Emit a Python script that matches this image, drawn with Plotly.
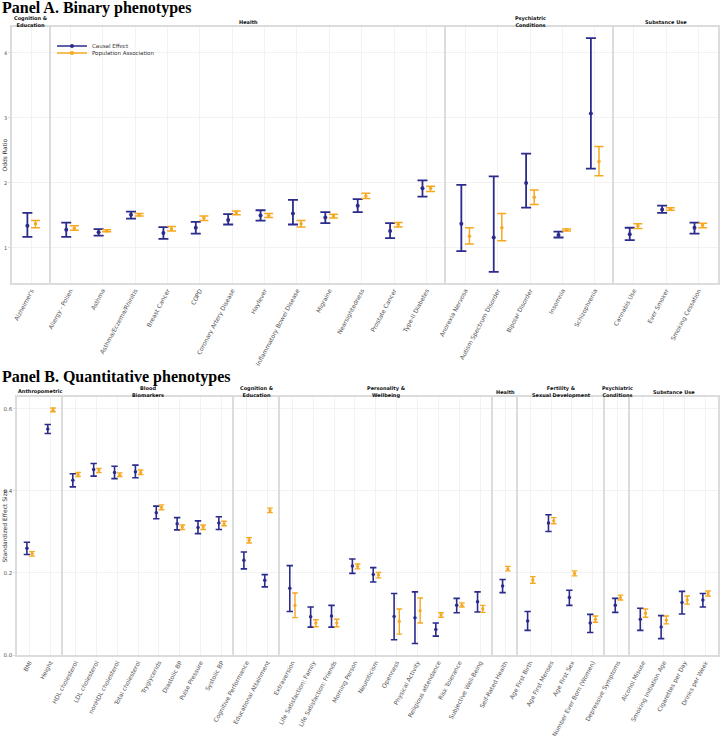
import numpy as np
import plotly.graph_objects as go

W, H = 720, 736
BLUE = "#2b2b8c"
ORANGE = "#f6a821"
BORDER = "#dcdcdc"
GRID = "#f2f2f2"
TICKC = "#555555"
FONT = "DejaVu Sans"

# ---------------- Panel A: binary phenotypes (odds ratios) ----------------
A_groups = ["Cognition &<br>Education", "Health", "Psychiatric<br>Conditions", "Substance Use"]
A_group_of = ["Cognition &<br>Education"] + ["Health"] * 12 + ["Psychiatric<br>Conditions"] * 5 + ["Substance Use"] * 3
A_pheno = ["Alzheimer's", "Allergy - Pollen", "Asthma", "Asthma/Eczema/Rhinitis", "Breast Cancer", "COPD",
           "Coronary Artery Disease", "Hayfever", "Inflammatory Bowel Disease", "Migraine", "Nearsightedness",
           "Prostate Cancer", "Type-II Diabetes", "Anorexia Nervosa", "Autism Spectrum Disorder",
           "Bipolar Disorder", "Insomnia", "Schizophrenia", "Cannabis Use", "Ever Smoker", "Smoking Cessation"]
A_ce = [1.34, 1.28, 1.24, 1.51, 1.23, 1.31, 1.43, 1.50, 1.53, 1.47, 1.65, 1.26, 1.92,
        1.37, 1.16, 2.00, 1.20, 3.07, 1.21, 1.59, 1.31]
A_ce_lo = [1.17, 1.17, 1.19, 1.45, 1.14, 1.22, 1.36, 1.42, 1.36, 1.38, 1.55, 1.15, 1.79,
           0.95, 0.63, 1.62, 1.16, 2.22, 1.12, 1.54, 1.22]
A_ce_hi = [1.54, 1.39, 1.29, 1.56, 1.32, 1.40, 1.52, 1.58, 1.74, 1.55, 1.75, 1.38, 2.04,
           1.97, 2.10, 2.45, 1.25, 4.23, 1.31, 1.65, 1.39]
A_pa = [1.37, 1.30, 1.26, 1.51, 1.29, 1.46, 1.54, 1.50, 1.37, 1.49, 1.80, 1.36, 1.92,
        1.18, 1.31, 1.78, 1.28, 2.33, 1.34, 1.60, 1.35]
A_pa_lo = [1.31, 1.27, 1.25, 1.49, 1.26, 1.42, 1.51, 1.47, 1.32, 1.46, 1.76, 1.32, 1.87,
           1.06, 1.11, 1.67, 1.26, 2.11, 1.30, 1.58, 1.31]
A_pa_hi = [1.42, 1.34, 1.28, 1.53, 1.33, 1.49, 1.57, 1.53, 1.42, 1.52, 1.84, 1.39, 1.95,
           1.31, 1.53, 1.89, 1.29, 2.56, 1.37, 1.62, 1.38]
A_yticks = [1, 2, 3, 4]

# ---------------- Panel B: quantitative phenotypes ----------------
B_groups = ["Anthropometric", "Blood<br>Biomarkers", "Cognition &<br>Education", "Personality &<br>Wellbeing",
            "Health", "Fertility &<br>Sexual Development", "Psychiatric<br>Conditions", "Substance Use"]
B_group_of = (["Anthropometric"] * 2 + ["Blood<br>Biomarkers"] * 8 + ["Cognition &<br>Education"] * 2 +
              ["Personality &<br>Wellbeing"] * 10 + ["Health"] + ["Fertility &<br>Sexual Development"] * 4 +
              ["Psychiatric<br>Conditions"] + ["Substance Use"] * 4)
B_pheno = ["BMI", "Height", "HDL cholesterol", "LDL cholesterol", "nonHDL cholesterol", "Total cholesterol",
           "Tryglycerids", "Diastolic BP", "Pulse Pressure", "Systolic BP", "Cognitive Performance",
           "Educational Attainment", "Extraversion", "Life Satisfaction: Family", "Life Satisfaction: Friends",
           "Morning Person", "Neuroticism", "Openness", "Physical Activity", "Religious attendance",
           "Risk Tolerance", "Subjective Well-Being", "Self-Rated Health", "Age First Birth", "Age First Menses",
           "Age First Sex", "Number Ever Born (Women)", "Depressive Symptoms", "Alcohol Misuse",
           "Smoking Initiation Age", "Cigarettes per Day", "Drinks per Week"]
B_ce = [0.260, 0.551, 0.426, 0.452, 0.445, 0.447, 0.347, 0.320, 0.311, 0.322, 0.231, 0.182,
        0.163, 0.093, 0.095, 0.217, 0.196, 0.094, 0.091, 0.062, 0.121, 0.130, 0.168,
        0.083, 0.322, 0.140, 0.078, 0.121, 0.087, 0.068, 0.128, 0.134]
B_ce_lo = [0.245, 0.540, 0.410, 0.436, 0.430, 0.432, 0.332, 0.305, 0.296, 0.306, 0.210, 0.166,
           0.106, 0.068, 0.068, 0.199, 0.178, 0.037, 0.028, 0.046, 0.103, 0.105, 0.152,
           0.060, 0.301, 0.121, 0.055, 0.104, 0.060, 0.040, 0.100, 0.117]
B_ce_hi = [0.275, 0.562, 0.442, 0.467, 0.460, 0.463, 0.363, 0.335, 0.327, 0.337, 0.251, 0.196,
           0.218, 0.117, 0.121, 0.234, 0.213, 0.150, 0.154, 0.078, 0.138, 0.154, 0.184,
           0.106, 0.342, 0.158, 0.099, 0.138, 0.114, 0.096, 0.155, 0.150]
B_pa = [0.247, 0.597, 0.440, 0.451, 0.439, 0.445, 0.360, 0.312, 0.312, 0.320, 0.280, 0.352,
        0.121, 0.078, 0.078, 0.216, 0.195, 0.082, 0.108, 0.098, 0.121, 0.113, 0.210,
        0.183, 0.327, 0.199, 0.087, 0.140, 0.102, 0.085, 0.134, 0.150]
B_pa_lo = [0.241, 0.593, 0.435, 0.445, 0.435, 0.440, 0.354, 0.306, 0.306, 0.315, 0.273, 0.347,
           0.091, 0.069, 0.069, 0.210, 0.188, 0.051, 0.078, 0.092, 0.117, 0.104, 0.205,
           0.175, 0.320, 0.193, 0.080, 0.134, 0.092, 0.076, 0.124, 0.144]
B_pa_hi = [0.252, 0.602, 0.445, 0.455, 0.444, 0.451, 0.366, 0.317, 0.317, 0.326, 0.286, 0.358,
           0.151, 0.086, 0.087, 0.222, 0.201, 0.112, 0.139, 0.103, 0.127, 0.121, 0.216,
           0.191, 0.335, 0.205, 0.095, 0.146, 0.112, 0.095, 0.144, 0.156]
B_yticks = [0.0, 0.2, 0.4, 0.6]
B_yticktext = ["0.0", "0.2", "0.4", "0.6"]


def px_x(p):
    return p / W


def px_y(p):
    return 1 - p / H


fig = go.Figure()
layout_axes = {}
annotations = []
axis_counter = [0]


def build_panel(groups, group_of, pheno, ce, ce_lo, ce_hi, pa, pa_lo, pa_hi,
                x_left, x_right, y_top, y_bot, yrange, yticks, yticktext, ytitle,
                capb, capo, lwb, lwo, msb, mso, strip_gap, ytick_size):
    total = sum(group_of.count(g) + 0.2 for g in groups)
    unit = (x_right - x_left) / total
    cur = x_left
    first_y = None
    for gi, g in enumerate(groups):
        idx = [i for i, gg in enumerate(group_of) if gg == g]
        n = len(idx)
        width = (n + 0.2) * unit
        axis_counter[0] += 1
        k = axis_counter[0]
        xa = "x" if k == 1 else f"x{k}"
        ya = "y" if k == 1 else f"y{k}"
        if first_y is None:
            first_y = ya
        pos = np.arange(n)
        vals_ce = np.array([ce[i] for i in idx])
        vals_ce_lo = np.array([ce_lo[i] for i in idx])
        vals_ce_hi = np.array([ce_hi[i] for i in idx])
        vals_pa = np.array([pa[i] for i in idx])
        vals_pa_lo = np.array([pa_lo[i] for i in idx])
        vals_pa_hi = np.array([pa_hi[i] for i in idx])
        fig.add_trace(go.Scatter(
            x=pos - 0.125, y=vals_ce, mode="markers", xaxis=xa, yaxis=ya, showlegend=False,
            marker=dict(color=BLUE, size=msb),
            error_y=dict(type="data", symmetric=False, array=vals_ce_hi - vals_ce,
                         arrayminus=vals_ce - vals_ce_lo, color=BLUE, thickness=lwb, width=capb)))
        fig.add_trace(go.Scatter(
            x=pos + 0.125, y=vals_pa, mode="markers", xaxis=xa, yaxis=ya, showlegend=False,
            marker=dict(color=ORANGE, size=mso),
            error_y=dict(type="data", symmetric=False, array=vals_pa_hi - vals_pa,
                         arrayminus=vals_pa - vals_pa_lo, color=ORANGE, thickness=lwo, width=capo)))
        xkey = "xaxis" if k == 1 else f"xaxis{k}"
        ykey = "yaxis" if k == 1 else f"yaxis{k}"
        layout_axes[xkey] = dict(
            domain=[px_x(cur), px_x(cur + width)], anchor=ya, range=[-0.6, n - 1 + 0.6],
            tickvals=list(pos), ticktext=[pheno[i] for i in idx], tickangle=-62,
            tickfont=dict(family=FONT, size=6, color=TICKC), ticks="", automargin=False,
            showline=True, mirror=True, linecolor=BORDER, linewidth=1.5,
            showgrid=True, gridcolor=GRID, gridwidth=1, zeroline=False, fixedrange=True)
        ydict = dict(
            domain=[px_y(y_bot), px_y(y_top)], anchor=xa, range=yrange,
            tickvals=yticks, ticktext=yticktext, automargin=False,
            showline=True, mirror=(gi == len(groups) - 1), linecolor=BORDER, linewidth=1.5,
            showgrid=True, gridcolor=GRID, gridwidth=1, zeroline=False, fixedrange=True)
        if gi == 0:
            ydict.update(showticklabels=True, ticks="outside", ticklen=2, tickcolor=BORDER,
                         tickfont=dict(family=FONT, size=ytick_size, color=TICKC))
        else:
            ydict.update(showticklabels=False, ticks="", matches=first_y)
        layout_axes[ykey] = ydict
        annotations.append(dict(
            text=g, x=px_x(cur + width / 2), y=px_y(y_top - strip_gap), xref="paper", yref="paper",
            xanchor="center", yanchor="middle", showarrow=False,
            font=dict(family=FONT, size=5, color="#111111", weight="bold")))
        cur += width
    annotations.append(dict(
        text=ytitle, x=px_x(3.5), y=px_y((y_top + y_bot) / 2), xref="paper", yref="paper",
        xanchor="center", yanchor="middle", textangle=-90, showarrow=False,
        font=dict(family=FONT, size=6, color="#333333")))


build_panel(A_groups, A_group_of, A_pheno, A_ce, A_ce_lo, A_ce_hi, A_pa, A_pa_lo, A_pa_hi,
            x_left=12, x_right=718, y_top=27, y_bot=283, yrange=[0.46, 4.4],
            yticks=A_yticks, yticktext=[str(v) for v in A_yticks], ytitle="Odds Ratio",
            capb=5, capo=4.5, lwb=1.8, lwo=1.5, msb=4, mso=3.5, strip_gap=5.5, ytick_size=5)
build_panel(B_groups, B_group_of, B_pheno, B_ce, B_ce_lo, B_ce_hi, B_pa, B_pa_lo, B_pa_hi,
            x_left=17, x_right=718, y_top=397, y_bot=655, yrange=[0, 0.629],
            yticks=B_yticks, yticktext=B_yticktext, ytitle="Standardized Effect Size",
            capb=3.2, capo=2.8, lwb=1.6, lwo=1.4, msb=3.5, mso=3.2, strip_gap=5.5, ytick_size=5.5)

# legend entries (legend-only traces)
fig.add_trace(go.Scatter(x=[None], y=[None], mode="lines+markers", name="Causal Effect",
                         line=dict(color=BLUE, width=1.5), marker=dict(color=BLUE, size=4),
                         legend="legend"))
fig.add_trace(go.Scatter(x=[None], y=[None], mode="lines+markers", name="Population Association",
                         line=dict(color=ORANGE, width=1.5), marker=dict(color=ORANGE, size=4),
                         legend="legend2"))

annotations.append(dict(text="<b>Panel A. Binary phenotypes</b>", x=0, y=px_y(8), xref="paper", yref="paper",
                        xanchor="left", yanchor="middle", showarrow=False,
                        font=dict(family="Liberation Serif", size=16, color="black")))
annotations.append(dict(text="<b>Panel B. Quantitative phenotypes</b>", x=0, y=px_y(377), xref="paper",
                        yref="paper", xanchor="left", yanchor="middle", showarrow=False,
                        font=dict(family="Liberation Serif", size=16, color="black")))

leg_common = dict(xanchor="left", yanchor="middle", bgcolor="rgba(0,0,0,0)",
                  font=dict(family=FONT, size=5.5, color="#333333"), itemwidth=30)
fig.update_layout(
    width=W, height=H, margin=dict(l=0, r=0, t=0, b=0, autoexpand=False),
    paper_bgcolor="white", plot_bgcolor="white", showlegend=True,
    legend=dict(x=px_x(52), y=px_y(46), **leg_common),
    legend2=dict(x=px_x(52), y=px_y(53), **leg_common),
    annotations=annotations,
    **layout_axes)

fig.write_html("out.html")
